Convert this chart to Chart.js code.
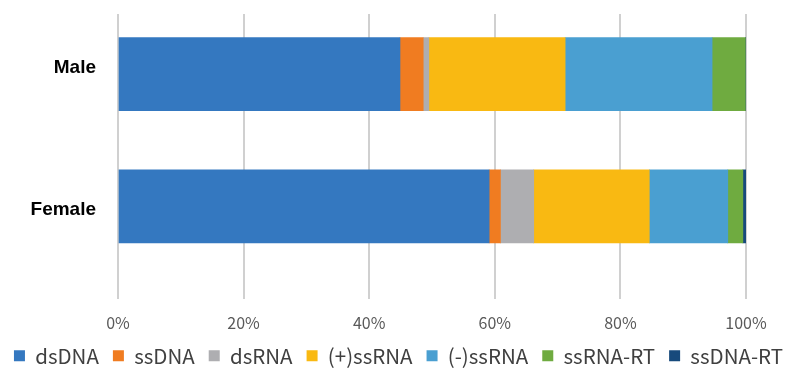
<!DOCTYPE html>
<html>
<head>
<meta charset="utf-8">
<script src="https://cdn.jsdelivr.net/npm/chart.js@4/dist/chart.umd.min.js"></script>
<style>
  html, body { margin: 0; padding: 0; background: #ffffff; }
  #wrap { width: 787px; height: 370px; position: relative; }
</style>
</head>
<body>
<div id="wrap"><canvas id="c"></canvas></div>
<script>
// Share of virus genome types per sex (% of reads)
const categories = ['Male', 'Female'];
const seriesNames = ['dsDNA', 'ssDNA', 'dsRNA', '(+)ssRNA', '(-)ssRNA', 'ssRNA-RT', 'ssDNA-RT'];
const dsDNA    = [44.9, 59.1];
const ssDNA    = [3.7, 1.8];
const dsRNA    = [0.9, 5.3];
const plusSS   = [21.7, 18.4];
const minusSS  = [23.4, 12.5];
const ssRNA_RT = [5.3, 2.4];
const ssDNA_RT = [0.1, 0.5];
const xTicks = [0, 20, 40, 60, 80, 100];

const seriesValues = [dsDNA, ssDNA, dsRNA, plusSS, minusSS, ssRNA_RT, ssDNA_RT];
const colors = ['#3478c0', '#f07c21', '#aeaeb1', '#f9b912', '#4a9fd1', '#6fab40', '#174a7c'];

const datasets = seriesNames.map((name, s) => ({
  label: name,
  data: categories.map((c, i) => ({ x: seriesValues[s][i], y: i })),
  backgroundColor: colors[s],
  borderWidth: 0,
  barThickness: 73
}));

const jpFont = '"Noto Sans CJK JP", "Noto Sans", sans-serif';
// category labels sit a little apart from the bar centres (in category units)
const labelNudge = [-0.045, 0.027];

new Chart(document.getElementById('c'), {
  type: 'bar',
  data: { datasets },
  options: {
    indexAxis: 'y',
    responsive: true,
    maintainAspectRatio: false,
    animation: false,
    // slightly negative side/bottom padding lets the one-row legend use the full width
    layout: { padding: { left: -10, right: -20, top: 14, bottom: -6 } },
    plugins: {
      tooltip: { enabled: false },
      legend: {
        position: 'bottom',
        labels: {
          boxWidth: 11,
          boxHeight: 11,
          padding: 14,
          color: '#404040',
          font: { family: jpFont, size: 20.5 }
        }
      }
    },
    scales: {
      x: {
        type: 'linear',
        stacked: true,
        min: 0,
        max: 100,
        afterBuildTicks: (scale) => { scale.ticks = xTicks.map(v => ({ value: v })); },
        afterFit: (scale) => { scale.paddingRight = 41; scale.height = 33; },
        ticks: {
          padding: 15,
          color: '#595959',
          font: { family: jpFont, size: 16 },
          callback: (v) => v + '%'
        },
        grid: { color: '#d0d0d0', lineWidth: 2, drawTicks: false },
        border: { display: false }
      },
      y: {
        type: 'linear',
        stacked: true,
        reverse: true,
        offset: false,
        min: -60 / 132,
        max: -60 / 132 + 284 / 132,
        afterBuildTicks: (scale) => {
          scale.ticks = categories.map((c, i) => ({ value: i + labelNudge[i] }));
        },
        afterFit: (scale) => {
          scale.width = 128;
          scale.paddingTop = 0;
          scale.paddingBottom = 0;
        },
        ticks: {
          padding: 22,
          color: '#000000',
          font: { family: '"Liberation Sans", Arial, sans-serif', size: 19, weight: 'bold' },
          callback: (v, i) => categories[i]
        },
        grid: { display: false, drawTicks: false },
        border: { display: false }
      }
    }
  }
});
</script>
</body>
</html>
